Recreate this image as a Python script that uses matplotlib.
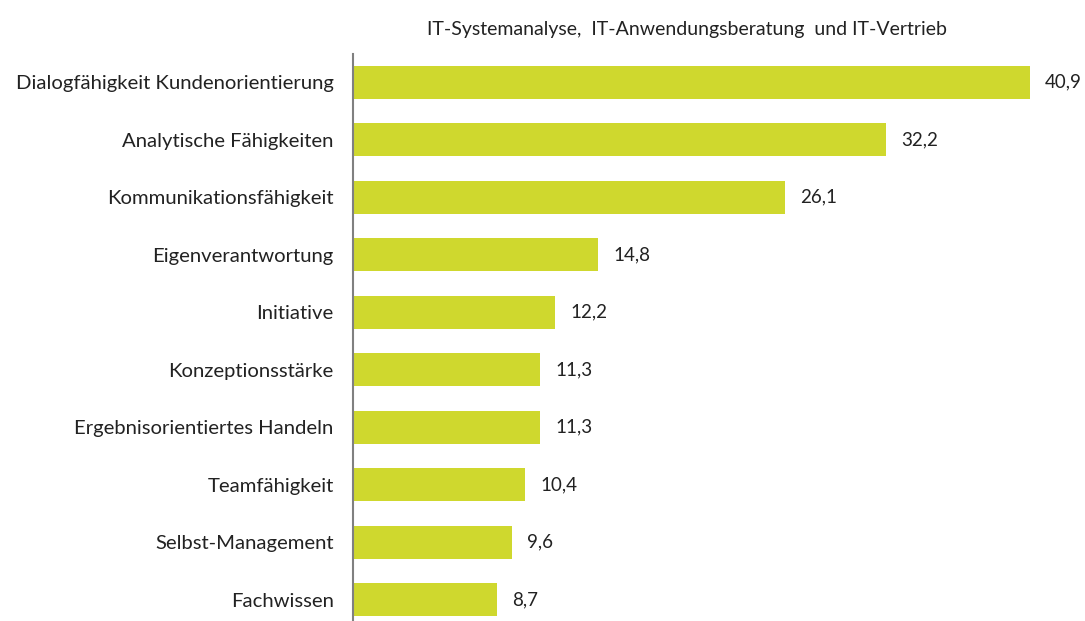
import matplotlib.pyplot as plt

plt.rcParams['font.family'] = ['Lato', 'DejaVu Sans']

categories = ["Dialogfähigkeit Kundenorientierung", "Analytische Fähigkeiten",
              "Kommunikationsfähigkeit", "Eigenverantwortung", "Initiative",
              "Konzeptionsstärke", "Ergebnisorientiertes Handeln", "Teamfähigkeit",
              "Selbst-Management", "Fachwissen"]
values = [40.9, 32.2, 26.1, 14.8, 12.2, 11.3, 11.3, 10.4, 9.6, 8.7]
title = "IT-Systemanalyse,  IT-Anwendungsberatung  und IT-Vertrieb"

fig = plt.figure(figsize=(10.85, 6.21), dpi=100)
ax = fig.add_axes([353 / 1085, 0, (1060 - 353) / 1085, 1 - 54 / 621])

pos = range(len(categories))
ax.barh(pos, values, height=0.58, color='#CFD82E')
for i, v in zip(pos, values):
    ax.annotate(f"{v:.1f}".replace('.', ','), (v, i), xytext=(11, 0),
                textcoords='offset points', va='center', ha='left',
                fontsize=13.5, color='#222222')

ax.set_xlim(0, (1060 - 353) / 16.55)
ax.set_ylim(9.37, -0.49)
ax.set_yticks(list(pos))
ax.set_yticklabels(categories, fontsize=14.6, color='#222222')
ax.tick_params(axis='y', length=0, pad=14)
ax.set_xticks([])
for s in ['top', 'right', 'bottom']:
    ax.spines[s].set_visible(False)
ax.spines['left'].set_color('#808080')
ax.spines['left'].set_linewidth(1.5)

fig.text(687 / 1085, 1 - 30 / 621, title, ha='center', va='center',
         fontsize=14, color='#222222')

fig.savefig('out.png', dpi=100)
